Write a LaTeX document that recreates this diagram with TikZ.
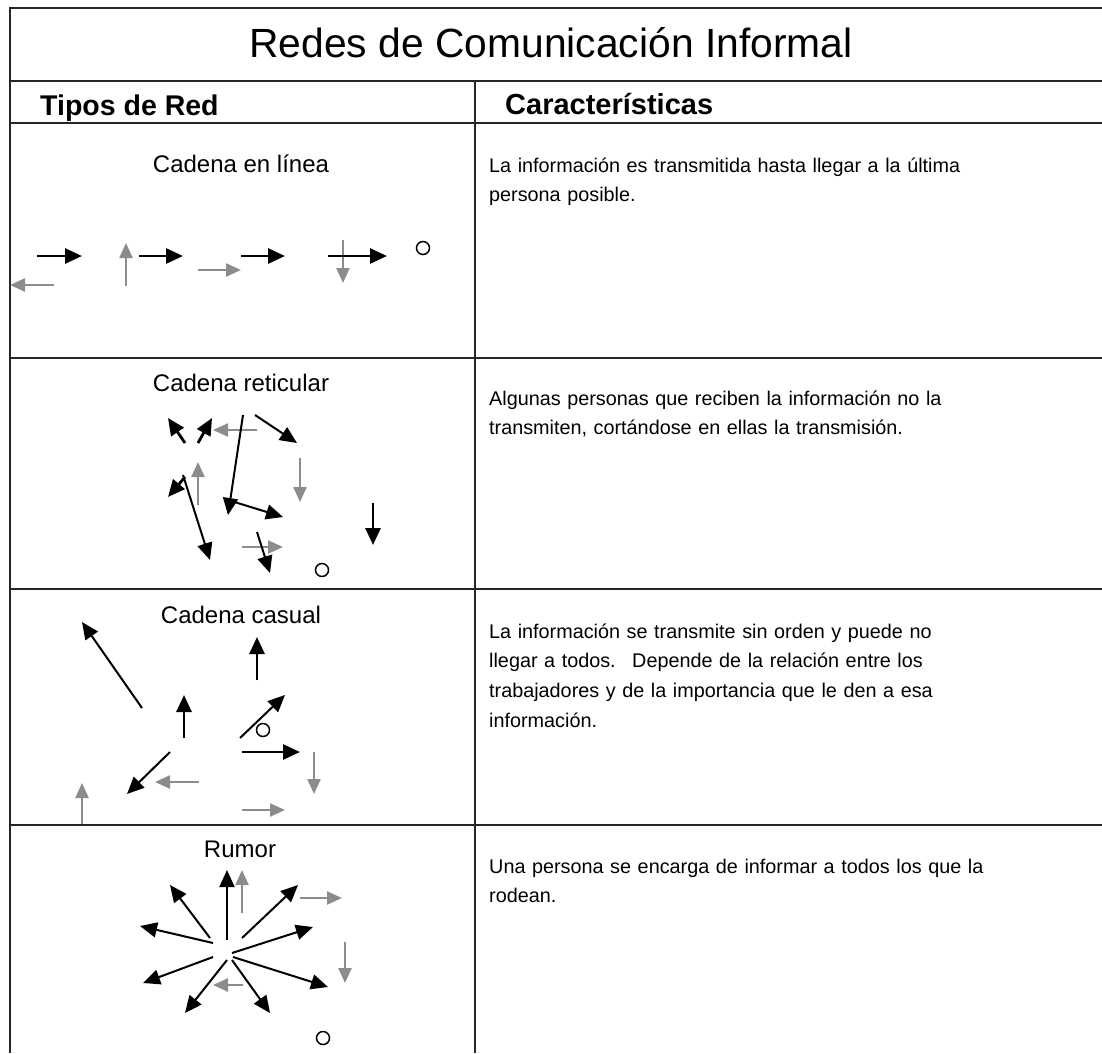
\documentclass[tikz,border=0pt]{standalone}
\usepackage{fontspec}
\setmainfont{Liberation Sans}
\usepackage{tikz}
\usetikzlibrary{arrows.meta,positioning}

\begin{document}
\begin{tikzpicture}[x=1pt,y=-1pt,
blk/.style={draw=black,line width=2.8pt,-{Triangle[length=17pt,width=15pt]}},
blkthin/.style={blk,line width=2pt},
gry/.style={draw=black!45,line width=2.3pt,-{Triangle[length=15pt,width=13pt]}},
rule/.style={draw=black!85,line width=2.5pt}]
\tikzstyle{person}=[circle,draw=black,line width=1.5pt,minimum size=13pt,inner sep=0pt]
\tikzstyle{kind}=[anchor=base,font=\fontsize{24}{28}\selectfont]
\tikzstyle{desc}=[anchor=base west,inner sep=0pt,text width=600pt,align=left,
font=\fontsize{19.8}{29.7}\selectfont]

\useasboundingbox (0,0) rectangle (1102,1053);

\draw[rule] (1102,8) -- (10,8) -- (10,1053);
\draw[rule] (10,81) -- (1102,81);
\draw[rule] (10,123) -- (1102,123);
\draw[rule] (10,358) -- (1102,358);
\draw[rule] (10,589) -- (1102,589);
\draw[rule] (10,825) -- (1102,825);
\draw[rule] (475,81) -- (475,1053);

\node[anchor=base,font=\fontsize{40.8}{48}\selectfont] (title) at (551,57) {Redes de Comunicación Informal};
\node[anchor=base west,inner sep=0pt,font=\fontsize{28.5}{32}\bfseries] (tipos) at (40,115) {Tipos de Red};
\node[anchor=base west,inner sep=0pt,font=\fontsize{29}{32}\bfseries] (carac) at (505,114) {Características};

\node[kind] (linea) at (241,172) {Cadena en línea};
\node[desc] (dlinea) at (489,172) {La información es transmitida hasta llegar a la última\\persona posible.};

\draw[blk] (37,256) -- (82,256);
\draw[gry] (54,285) -- (10,285);
\draw[gry] (126,286) -- (126,243);
\draw[blk] (139,256) -- (183,256);
\draw[gry] (198,270) -- (241,270);
\draw[blk] (241,256) -- (285,256);
\draw[gry] (343,240) -- (343,283);
\draw[blk] (328,256) -- (387,256);
\node[person] (fin1) at (423,248) {};

\node[kind] (reticular) at (241,391) {Cadena reticular};
\node[desc] (dreticular) at (489,405) {Algunas personas que reciben la información no la\\transmiten, cortándose en ellas la transmisión.};

\draw[blk] (185,443) -- (168,418);
\draw[blk] (198,443) -- (212,418);
\draw[gry] (257,430) -- (213,430);
\draw[blkthin] (243,415) -- (228,515);
\draw[blkthin] (255,415) -- (297,443);
\draw[gry] (300,458) -- (300,502);
\draw[gry] (198,505) -- (198,462);
\draw[blk] (185,477) -- (168,497);
\draw[blkthin] (183,475) -- (210,560);
\draw[blkthin] (228,500) -- (283,517);
\draw[gry] (242,547) -- (283,547);
\draw[blkthin] (257,532) -- (270,573);
\draw[blk] (373,503) -- (373,545);
\node[person] (fin2) at (322,570) {};

\node[kind] (casual) at (241,623) {Cadena casual};
\node[desc] (dcasual) at (489,638) {La información se transmite sin orden y puede no\\llegar a todos.~ Depende de la relación entre los\\trabajadores y de la importancia que le den a esa\\información.};

\draw[blkthin] (142,708) -- (82,622);
\draw[blk] (257,680) -- (257,637);
\draw[blk] (184,738) -- (184,695);
\draw[blkthin] (240,738) -- (285,695);
\node[person] (fin3) at (263,730) {};
\draw[blk] (242,752) -- (300,752);
\draw[gry] (314,752) -- (314,794);
\draw[blkthin] (170,752) -- (127,794);
\draw[gry] (199,782) -- (155,782);
\draw[gry] (82,824) -- (82,783);
\draw[gry] (242,810) -- (285,810);

\node[kind] (rumor) at (240,857) {Rumor};
\node[desc] (drumor) at (489,873) {Una persona se encarga de informar a todos los que la\\rodean.};

\draw[blkthin] (227,940) -- (227,870);
\draw[gry] (242,913) -- (242,870);
\draw[blkthin] (210,938) -- (170,885);
\draw[blkthin] (242,938) -- (298,885);
\draw[gry] (300,898) -- (342,898);
\draw[blkthin] (213,943) -- (140,926);
\draw[blkthin] (232,953) -- (313,927);
\draw[blkthin] (213,957) -- (143,983);
\draw[blkthin] (233,957) -- (328,987);
\draw[blkthin] (227,960) -- (185,1013);
\draw[blkthin] (232,960) -- (270,1013);
\draw[gry] (243,985) -- (213,985);
\draw[gry] (345,942) -- (345,983);
\node[person] (fin4) at (323,1038) {};

\end{tikzpicture}
\end{document}
